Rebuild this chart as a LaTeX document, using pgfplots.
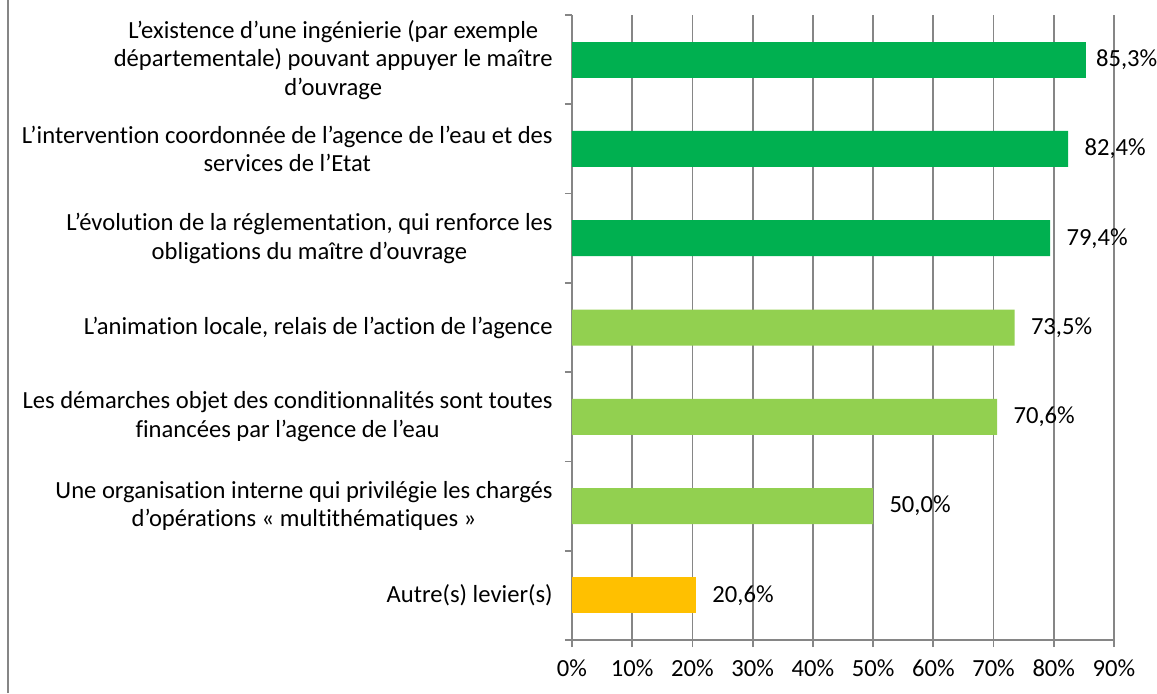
\documentclass[border=0pt]{standalone}
\usepackage{pgfplots}
\pgfplotsset{compat=1.18}
\usepackage{fontspec}
\setmainfont{Carlito}[Ligatures={NoCommon}]
\definecolor{dkgreen}{HTML}{00B050}
\definecolor{ltgreen}{HTML}{92D050}
\definecolor{orng}{HTML}{FFC000}
\definecolor{gridc}{HTML}{868686}
\begin{document}
\begin{tikzpicture}
\useasboundingbox (0,0) rectangle (578.5pt,346.5pt);
\draw[color=gridc, line width=0.7pt] (4pt,0) -- (4pt,346.5pt);
\begin{axis}[
  at={(286pt,26.5pt)}, anchor=south west,
  scale only axis, width=271pt, height=312.5pt,
  xmin=0, xmax=90, ymin=0.5, ymax=7.5, y dir=reverse,
  axis lines=left, axis line style={-, gridc, line width=0.9pt},
  xtick={0,10,...,90},
  xticklabels={0\%,10\%,20\%,30\%,40\%,50\%,60\%,70\%,80\%,90\%},
  ytick={1,...,7},
  yticklabels={{L’existence d’une ingénierie (par exemple\\départementale) pouvant appuyer le maître\\d’ouvrage},
    {L’intervention coordonnée de l’agence de l’eau et des\\services de l’Etat},
    {L’évolution de la réglementation, qui renforce les\\obligations du maître d’ouvrage},
    {L’animation locale, relais de l’action de l’agence},
    {Les démarches objet des conditionnalités sont toutes\\financées par l’agence de l’eau},
    {Une organisation interne qui privilégie les chargés\\d’opérations « multithématiques »},
    {Autre(s) levier(s)}},
  minor ytick={0.5,1.5,...,7.5},
  xmajorgrids, major grid style={gridc, line width=0.9pt},
  tick align=outside, major tick length=3.5pt, minor tick length=3.5pt,
  tick style={gridc, line width=0.9pt},
  major y tick style={draw=none},
  yticklabel style={align=center, inner sep=0pt, xshift=-6pt, font=\fontsize{12.3}{14.25}\selectfont},
  xticklabel style={font=\fontsize{12.3}{14.25}\selectfont, yshift=-2.8pt},
  xbar, bar width=18pt, bar shift=0pt,
  point meta=explicit symbolic,
  nodes near coords,
  every node near coord/.append style={font=\fontsize{12.3}{14.25}\selectfont, anchor=west, inner sep=0pt, xshift=8pt, text=black},
  clip=false,
]
\addplot[fill=dkgreen, draw=none, every node near coord/.append style={xshift=-3pt}] coordinates {(85.3,1) [85,3\%]};
\addplot[fill=dkgreen, draw=none] coordinates {(82.4,2) [82,4\%] (79.4,3) [79,4\%]};
\addplot[fill=ltgreen, draw=none] coordinates {(73.5,4) [73,5\%] (70.6,5) [70,6\%] (50.0,6) [50,0\%]};
\addplot[fill=orng, draw=none] coordinates {(20.6,7) [20,6\%]};
\end{axis}
\end{tikzpicture}
\end{document}
